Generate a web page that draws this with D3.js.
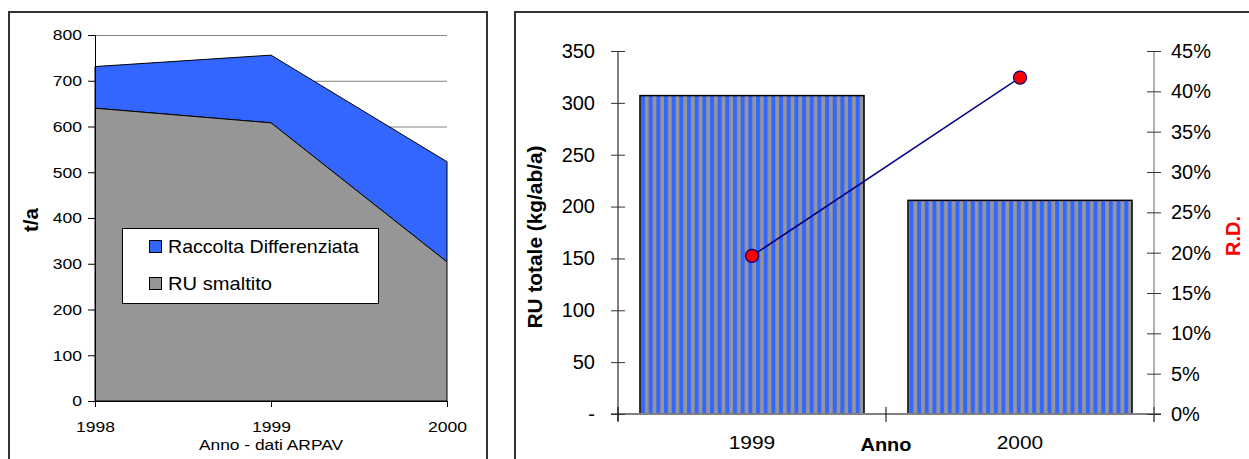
<!DOCTYPE html>
<html><head><meta charset="utf-8">
<script src="https://cdn.jsdelivr.net/npm/d3@7"></script>
<style>body{margin:0;background:#fff}svg{display:block}text{font-family:"Liberation Sans",Arial,sans-serif}</style>
</head><body>
<svg id="c" width="1249" height="459"></svg>
<script>
// ---- data: left chart ----
const years = ["1998", "1999", "2000"];
const ruSmaltito = [640, 608, 304];
const raccoltaDiff = [91, 148, 219];
const leftTicks = [0, 100, 200, 300, 400, 500, 600, 700, 800];
const leftSeriesNames = ["Raccolta Differenziata", "RU smaltito"];
// ---- data: right chart ----
const barYears = ["1999", "2000"];
const ruTotale = [307, 206];
const rdShare = [0.196, 0.417];
const kgTicks = [0, 50, 100, 150, 200, 250, 300, 350];
const pctTicks = [0, 0.05, 0.10, 0.15, 0.20, 0.25, 0.30, 0.35, 0.40, 0.45];

const BLUE = "#3366ff", GREY = "#969696";
const svg = d3.select("#c");

// stretch text horizontally by factor k
function stretch(sel, k) {
  sel.each(function () {
    const w = this.getComputedTextLength();
    d3.select(this).attr("textLength", w * k).attr("lengthAdjust", "spacingAndGlyphs");
  });
}

// frames
svg.append("path").attr("d", "M9,470 V12 H487 V470").attr("fill", "none").attr("stroke", "#333").attr("stroke-width", 2);
svg.append("path").attr("d", "M515,470 V12 H1260").attr("fill", "none").attr("stroke", "#333").attr("stroke-width", 2);

// ===== LEFT CHART =====
const L = svg.append("g");
const x1 = d3.scalePoint().domain(years).range([95, 447]);
const y1 = d3.scaleLinear().domain([0, 800]).range([401, 35]);
L.selectAll("line.g").data(leftTicks.slice(1)).join("line")
  .attr("x1", 95).attr("x2", 447).attr("y1", d => y1(d) + 0.5).attr("y2", d => y1(d) + 0.5)
  .attr("stroke", "#808080").attr("stroke-width", 1);
const rows = years.map((yr, i) => ({yr, a: ruSmaltito[i], b: raccoltaDiff[i]}));
const areaTop = d3.area().x(d => x1(d.yr)).y0(d => y1(d.a)).y1(d => y1(d.a + d.b));
const areaBot = d3.area().x(d => x1(d.yr)).y0(y1(0)).y1(d => y1(d.a));
L.append("path").datum(rows).attr("d", areaTop).attr("fill", BLUE).attr("stroke", "#000").attr("stroke-width", 1);
L.append("path").datum(rows).attr("d", areaBot).attr("fill", GREY).attr("stroke", "#000").attr("stroke-width", 1);
const yAxL = L.append("g").attr("transform", "translate(95,0)")
  .call(d3.axisLeft(y1).tickValues(leftTicks).tickSize(7).tickPadding(6));
const xAxL = L.append("g").attr("transform", "translate(0,401)")
  .call(d3.axisBottom(x1).tickSize(6).tickPadding(14));
[yAxL, xAxL].forEach(g => {
  g.select(".domain").attr("stroke", "#000");
  g.selectAll(".tick line").attr("stroke", "#000");
  g.selectAll("text").attr("font-size", 15.5).attr("fill", "#000").attr("font-family", "Liberation Sans, Arial");
});
stretch(yAxL.selectAll("text"), 1.13);
stretch(xAxL.selectAll("text"), 1.13);
const xt = L.append("text").attr("x", 271).attr("y", 450).attr("text-anchor", "middle").attr("font-size", 15.5).text("Anno - dati ARPAV");
stretch(xt, 1.12);
L.append("text").attr("transform", "translate(38,220) rotate(-90)").attr("text-anchor", "middle")
  .attr("font-size", 20.5).attr("font-weight", "bold").text("t/a");
// legend
const lg = L.append("g");
lg.append("rect").attr("x", 122.5).attr("y", 228.5).attr("width", 256).attr("height", 75).attr("fill", "#fff").attr("stroke", "#000");
const legColors = [BLUE, GREY];
const legWidths = [191, 104];
leftSeriesNames.forEach((n, i) => {
  const yy = 240 + i * 37;
  lg.append("rect").attr("x", 149.5).attr("y", yy + 0.5).attr("width", 12).attr("height", 12).attr("fill", legColors[i]).attr("stroke", "#000");
  lg.append("text").attr("x", 168).attr("y", yy + 12.5).attr("font-size", 18.5)
    .attr("textLength", legWidths[i]).attr("lengthAdjust", "spacingAndGlyphs").text(n);
});

// ===== RIGHT CHART =====
const R = svg.append("g");
const defs = svg.append("defs");
const pat = defs.append("pattern").attr("id", "stripes").attr("patternUnits", "userSpaceOnUse")
  .attr("width", 7.67).attr("height", 10).attr("x", 640);
pat.append("rect").attr("width", 7.67).attr("height", 10).attr("fill", GREY);
pat.append("rect").attr("x", 1).attr("width", 4).attr("height", 10).attr("fill", BLUE);

const xb = d3.scaleBand().domain(barYears).range([618, 1154]).paddingInner(0.164).paddingOuter(0.082);
const xc = d3.scaleBand().domain(barYears).range([618, 1154]);
const yk = d3.scaleLinear().domain([0, 350]).range([414, 51]);
const yp = d3.scaleLinear().domain([0, 0.45]).range([414, 51]);

R.selectAll("rect.bar").data(barYears).join("rect").attr("class", "bar")
  .attr("x", d => xb(d)).attr("width", xb.bandwidth())
  .attr("y", (d, i) => yk(ruTotale[i])).attr("height", (d, i) => yk(0) - yk(ruTotale[i]))
  .attr("fill", "url(#stripes)").attr("stroke", "#000").attr("stroke-width", 1.5);

const xAxR = R.append("g").attr("transform", "translate(0,414)")
  .call(d3.axisBottom(xc).tickSize(0).tickPadding(22));
xAxR.select(".domain").attr("stroke", "#808080").attr("stroke-width", 2).attr("d", "M611,0H1161");
xAxR.selectAll("text").attr("font-size", 19).attr("fill", "#000").attr("font-family", "Liberation Sans, Arial");
stretch(xAxR.selectAll("text"), 1.1);
R.selectAll("line.xt").data([618, 618 + xc.step(), 1154]).join("line")
  .attr("x1", d => d).attr("x2", d => d).attr("y1", 407).attr("y2", 422).attr("stroke", "#000");
R.append("text").attr("x", 618 + xc.step()).attr("y", 451).attr("text-anchor", "middle")
  .attr("font-size", 19).attr("font-weight", "bold").attr("textLength", 51).attr("lengthAdjust", "spacingAndGlyphs").text("Anno");

const yAxR = R.append("g").attr("transform", "translate(618,0)")
  .call(d3.axisLeft(yk).tickValues(kgTicks).tickSize(7).tickPadding(16)
    .tickFormat(d => d === 0 ? "-" : d));
yAxR.select(".domain").attr("stroke", "#000").attr("d", "M0,51V421");
yAxR.selectAll(".tick line").attr("stroke", "#333").attr("x2", 7).attr("x1", -7);
yAxR.selectAll("text").attr("font-size", 20).attr("fill", "#000").attr("font-family", "Liberation Sans, Arial");
const pAx = R.append("g").attr("transform", "translate(1154,0)")
  .call(d3.axisRight(yp).tickValues(pctTicks).tickSize(7).tickPadding(10).tickFormat(d3.format(".0%")));
pAx.select(".domain").attr("stroke", "#666").attr("d", "M0,51V421");
pAx.selectAll(".tick line").attr("stroke", "#333").attr("x1", -7).attr("x2", 7);
pAx.selectAll("text").attr("font-size", 20).attr("fill", "#000").attr("font-family", "Liberation Sans, Arial");

const pts = barYears.map((yr, i) => ({yr, v: rdShare[i]}));
R.append("path").datum(pts).attr("d", d3.line().x(d => xc(d.yr) + xc.bandwidth() / 2).y(d => yp(d.v)))
  .attr("fill", "none").attr("stroke", "#000080").attr("stroke-width", 1.5);
R.selectAll("circle").data(pts).join("circle")
  .attr("cx", d => xc(d.yr) + xc.bandwidth() / 2).attr("cy", d => yp(d.v)).attr("r", 6.5)
  .attr("fill", "#ff0000").attr("stroke", "#000080").attr("stroke-width", 1.2);

R.append("text").attr("transform", "translate(542,237) rotate(-90)").attr("text-anchor", "middle")
  .attr("font-size", 19.5).attr("font-weight", "bold").attr("textLength", 183).attr("lengthAdjust", "spacingAndGlyphs").text("RU totale (kg/ab/a)");
R.append("text").attr("transform", "translate(1240,236) rotate(-90)").attr("text-anchor", "middle")
  .attr("font-size", 20).attr("font-weight", "bold").attr("fill", "#ff0000").text("R.D.");
</script>
</body></html>
